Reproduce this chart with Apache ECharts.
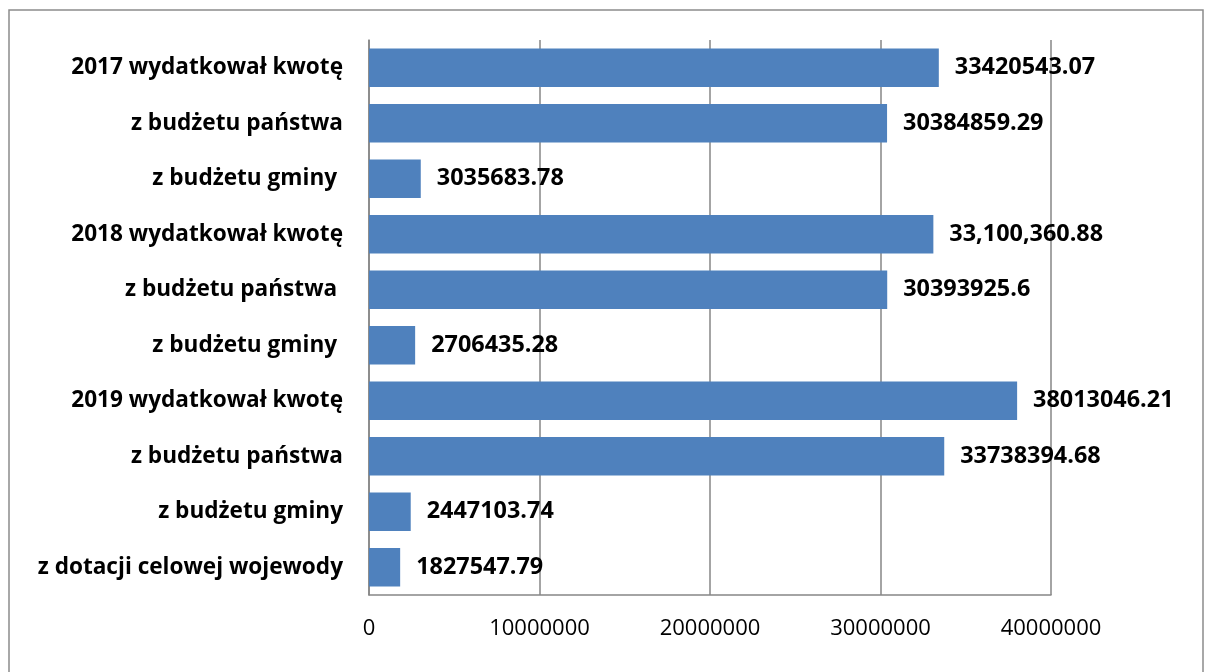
<!DOCTYPE html>
<html><head><meta charset="utf-8">
<script src="https://cdn.jsdelivr.net/npm/echarts@6/dist/echarts.min.js"></script>
<style>html,body{margin:0;padding:0;background:#fff}#c{width:1206px;height:672px}</style>
</head><body><div id="c"></div>
<script>
const categories = ["2017 wydatkował kwotę","z budżetu państwa","z budżetu gminy ","2018 wydatkował kwotę","z budżetu państwa ","z budżetu gminy ","2019 wydatkował kwotę","z budżetu państwa","z budżetu gminy","z dotacji celowej wojewody"];
const values = [33420543.07,30384859.29,3035683.78,33100360.88,30393925.6,2706435.28,38013046.21,33738394.68,2447103.74,1827547.79];
const valueLabels = ["33420543.07","30384859.29","3035683.78","33,100,360.88","30393925.6","2706435.28","38013046.21","33738394.68","2447103.74","1827547.79"];
const xTicks = [0,10000000,20000000,30000000,40000000];

const chart = echarts.init(document.getElementById('c'));
chart.setOption({
  animation:false,
  backgroundColor:'#fff',
  graphic:[{type:'rect',shape:{x:9,y:10,width:1194,height:700},style:{fill:'none',stroke:'#8c8c8c',lineWidth:1.5},silent:true,z:-1}],
  grid:{left:369,right:155,top:40,bottom:77,containLabel:false,show:false},
  xAxis:{type:'value',min:xTicks[0],max:xTicks[xTicks.length-1],interval:10000000,
    axisLine:{show:true,lineStyle:{color:'#868686',width:1.5}},axisTick:{show:false},
    splitLine:{show:true,lineStyle:{color:'#868686',width:1.5}},
    axisLabel:{color:'#000',fontFamily:'Open Sans',fontSize:22,margin:23,formatter:v=>String(v)}},
  yAxis:{type:'category',inverse:true,data:categories,
    axisLine:{show:true,lineStyle:{color:'#868686',width:1.5}},axisTick:{show:false},
    axisLabel:{color:'#000',fontFamily:'Open Sans',fontWeight:'bold',fontSize:22.6,margin:26,padding:[3,0,0,0]}},
  series:[{type:'bar',data:values,barCategoryGap:'31%',
    itemStyle:{color:'#4F81BD'},z:1,
    label:{show:true,position:'right',distance:16,color:'#000',fontFamily:'Open Sans',fontWeight:'bold',fontSize:23.4,
      formatter:p=>valueLabels[p.dataIndex]}}]
});
</script></body></html>
